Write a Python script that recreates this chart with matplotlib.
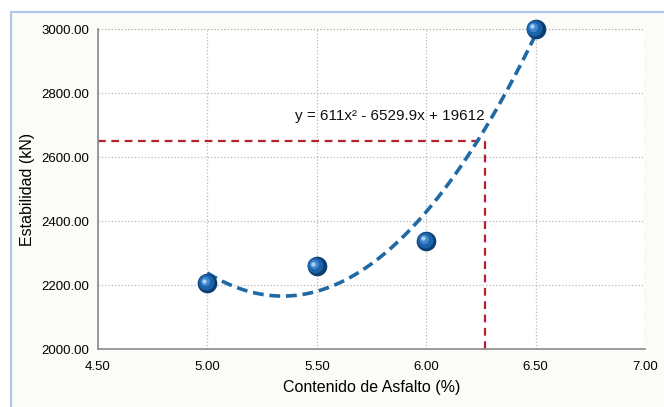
import matplotlib
matplotlib.use("Agg")
import matplotlib.pyplot as plt
from matplotlib.patches import Rectangle
import numpy as np

# data
asfalto = [5.0, 5.5, 6.0, 6.5]
estabilidad = [2205, 2258, 2338, 3000]
trend_coef = [611, -6529.9, 19612]  # y = 611x^2 - 6529.9x + 19612
optimo_x = 6.27
optimo_y = 2650
x_ticks = [4.5, 5.0, 5.5, 6.0, 6.5, 7.0]
y_ticks = [2000, 2200, 2400, 2600, 2800, 3000]

plt.rcParams['font.family'] = ['Liberation Sans', 'DejaVu Sans']

fig = plt.figure(figsize=(6.64, 4.07), dpi=100)
fig.patch.set_facecolor('white')

# light blue frame around the chart area
frame = Rectangle((11 / 664, -0.05), 1.1, 1 - 12 / 407 + 0.05, transform=fig.transFigure,
                  facecolor='#fbfbf7', edgecolor='#b3c7ea', linewidth=1.6, zorder=-1)
fig.add_artist(frame)

ax = fig.add_axes([98 / 664, 58 / 407, 547 / 664, 320 / 407])
ax.set_zorder(2)
ax.set_facecolor('white')

# trend line
xs = np.linspace(asfalto[0], asfalto[-1], 200)
ax.plot(xs, np.polyval(trend_coef, xs), linestyle=(0, (3, 1.6)), color='#1f6aa5',
        linewidth=2.6, zorder=3)

# reference lines
ax.plot([x_ticks[0], optimo_x], [optimo_y, optimo_y], linestyle=(0, (3.5, 2.5)),
        color='#b5222e', linewidth=1.6, zorder=2)
ax.plot([optimo_x, optimo_x], [y_ticks[0], optimo_y], linestyle=(0, (3.5, 2.5)),
        color='#b5222e', linewidth=1.6, zorder=2)

# sphere-like markers: dark base, lighter body, small highlight
ax.scatter(asfalto, estabilidad, s=200, color='#0b3f72', linewidths=0, zorder=4,
           clip_on=False)
ax.scatter([a - 0.006 for a in asfalto], [e + 3 for e in estabilidad], s=130,
           color='#1c62a8', linewidths=0, zorder=5, clip_on=False)
ax.scatter([a - 0.012 for a in asfalto], [e + 7 for e in estabilidad], s=45,
           color='#3f87cf', linewidths=0, zorder=6, clip_on=False)
ax.scatter([a - 0.016 for a in asfalto], [e + 9 for e in estabilidad], s=10,
           color='#a9d1f3', linewidths=0, zorder=7, clip_on=False)

ax.text(5.835, 2727, 'y = 611x² - 6529.9x + 19612', fontsize=11, ha='center',
        va='center', color='#111111', zorder=8)

ax.set_xlim(x_ticks[0], x_ticks[-1])
ax.set_ylim(y_ticks[0], y_ticks[-1])
ax.set_xticks(x_ticks)
ax.set_yticks(y_ticks)
ax.set_xticklabels([f'{v:.2f}' for v in x_ticks], fontsize=9.5)
ax.set_yticklabels([f'{v:.2f}' for v in y_ticks], fontsize=9.5)
ax.tick_params(length=0, pad=6)
ax.tick_params(axis='x', pad=9)
ax.grid(True, linestyle=':', color='#b8b8b8', linewidth=0.9)
ax.set_axisbelow(True)

for side in ['top', 'right']:
    ax.spines[side].set_visible(False)
for side in ['left', 'bottom']:
    ax.spines[side].set_color('#8a8a8a')
    ax.spines[side].set_linewidth(1.2)

# dotted closing lines at the top and right edges
ax.axhline(y_ticks[-1], linestyle=':', color='#b8b8b8', linewidth=0.9, zorder=1)
ax.axvline(x_ticks[-1], linestyle=':', color='#b8b8b8', linewidth=0.9, zorder=1)

ax.set_xlabel('Contenido de Asfalto (%)', fontsize=11.5, labelpad=5)
ax.set_ylabel('Estabilidad (kN)', fontsize=11.5, labelpad=5)

fig.savefig('out.png', dpi=100)
